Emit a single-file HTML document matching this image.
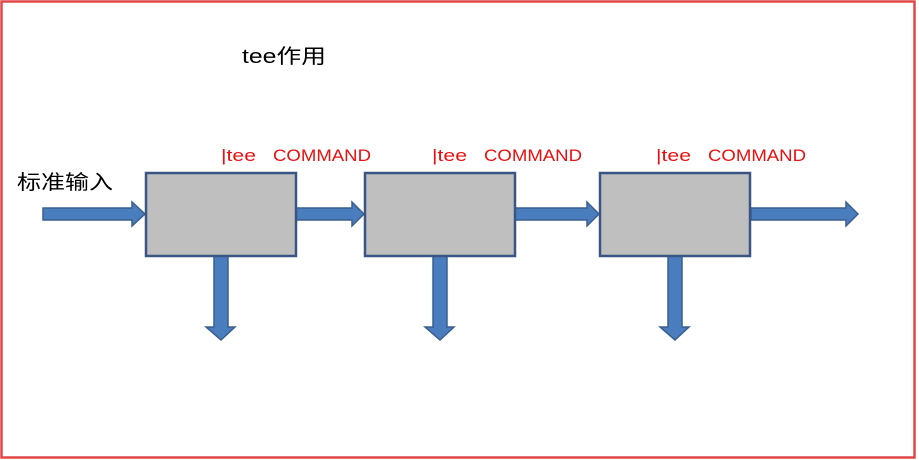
<!DOCTYPE html>
<html><head><meta charset="utf-8"><style>
html,body{margin:0;padding:0;background:#fff;width:919px;height:460px;overflow:hidden}
svg{display:block}
text{font-family:"Liberation Sans","Noto Sans CJK SC",sans-serif}
</style></head><body>
<svg width="919" height="460" xmlns="http://www.w3.org/2000/svg">
<rect x="1.5" y="1.5" width="913" height="456" fill="none" stroke="#e04848" stroke-width="2.5"/>
<text x="242" y="63" font-size="20" fill="#000" textLength="84" lengthAdjust="spacingAndGlyphs">tee作用</text>
<text x="17" y="189" font-size="20" fill="#000" textLength="96" lengthAdjust="spacingAndGlyphs">标准输入</text>
<g font-size="17" fill="#e81010">
<text x="221" y="161" textLength="35" lengthAdjust="spacingAndGlyphs">|tee</text>
<text x="273" y="161" textLength="98" lengthAdjust="spacingAndGlyphs">COMMAND</text>
<text x="432" y="161" textLength="35" lengthAdjust="spacingAndGlyphs">|tee</text>
<text x="484" y="161" textLength="98" lengthAdjust="spacingAndGlyphs">COMMAND</text>
<text x="656" y="161" textLength="35" lengthAdjust="spacingAndGlyphs">|tee</text>
<text x="708" y="161" textLength="98" lengthAdjust="spacingAndGlyphs">COMMAND</text>
</g>
<g fill="#4a7dbd" stroke="#3a5f8f" stroke-width="1.5" stroke-linejoin="miter">
<polygon points="43,208 132,208 132,202 145,214 132,226 132,220 43,220"/>
<polygon points="296,208 352,208 352,202 364,214 352,226 352,220 296,220"/>
<polygon points="515,208 587,208 587,202 599,214 587,226 587,220 515,220"/>
<polygon points="751,208 846,208 846,202 858,214 846,226 846,220 751,220"/>
<polygon points="214,256 228,256 228,327 235,327 221,340 206,327 214,327"/>
<polygon points="433,256 447,256 447,327 454,327 440,340 425,327 433,327"/>
<polygon points="668,256 682,256 682,327 689,327 675,340 660,327 668,327"/>
</g>
<g fill="#bfbfbf" stroke="#3a5585" stroke-width="2.5">
<rect x="146" y="173" width="150" height="83"/>
<rect x="365" y="173" width="150" height="83"/>
<rect x="600" y="173" width="150" height="83"/>
</g>
</svg>
</body></html>
